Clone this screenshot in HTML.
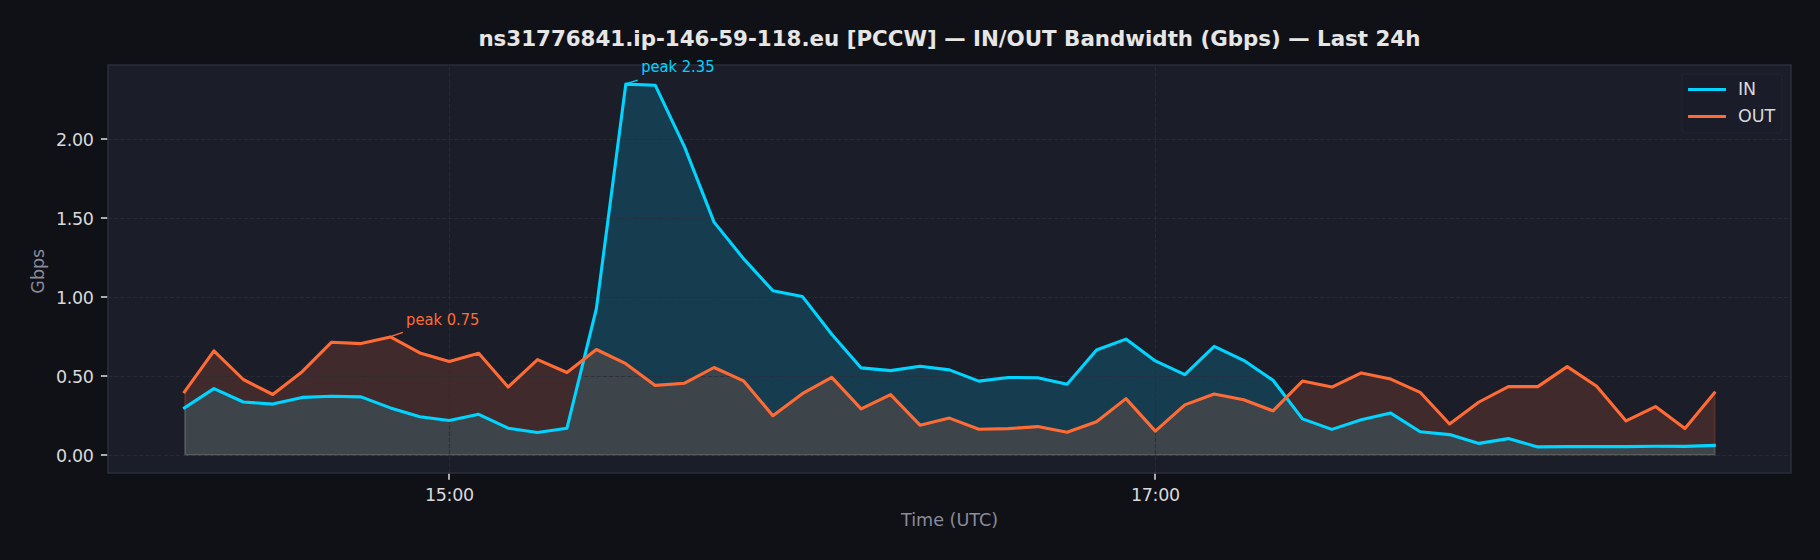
<!DOCTYPE html>
<html lang="en"><head><meta charset="utf-8"><title>IN/OUT Bandwidth</title>
<style>
html,body{margin:0;padding:0;background:#101116;}
body{width:1820px;height:560px;overflow:hidden;}
svg{display:block;font-family:"DejaVu Sans","Liberation Sans",sans-serif;}
text{white-space:pre;}
</style></head><body>
<svg width="1820" height="560" viewBox="0 0 1820 560">
<rect x="0" y="0" width="1820" height="560" fill="#101116"/>
<rect x="108.0" y="65.0" width="1683.00" height="408.00" fill="#1b1d29"/>

<polygon points="185.00,455.00 185.00,407.90 213.92,388.60 243.34,402.00 272.76,404.10 302.18,397.40 331.60,396.30 361.02,396.90 390.44,407.90 419.86,416.70 449.28,420.50 478.70,414.30 508.12,428.20 537.54,432.50 566.96,428.20 596.38,308.60 625.80,84.10 655.22,85.20 684.64,147.10 714.06,222.10 743.48,258.60 772.90,290.80 802.32,296.40 831.74,334.30 861.16,367.90 890.58,370.60 920.00,366.20 949.42,369.90 978.84,381.10 1008.26,377.50 1037.68,377.70 1067.10,384.30 1096.52,350.00 1125.94,339.10 1155.36,360.90 1184.78,374.60 1214.20,346.30 1243.62,360.30 1273.04,380.30 1302.46,418.90 1331.88,429.40 1361.30,419.70 1390.72,413.10 1420.14,431.70 1449.56,434.60 1478.98,443.40 1508.40,438.60 1537.82,446.90 1567.24,446.60 1596.66,446.60 1626.08,446.60 1655.50,446.30 1684.92,446.40 1714.70,445.40 1714.70,455.00" fill="#00d4ff" fill-opacity="0.18" stroke="#00d4ff" stroke-opacity="0.18" stroke-width="1.94" stroke-linejoin="miter"/>
<polygon points="185.00,455.00 185.00,391.80 213.92,350.80 243.34,379.50 272.76,394.50 302.18,371.70 331.60,342.20 361.02,343.60 390.44,336.90 419.86,352.90 449.28,361.40 478.70,353.20 508.12,387.00 537.54,359.60 566.96,372.50 596.38,349.50 625.80,363.70 655.22,385.40 684.64,383.20 714.06,367.50 743.48,380.80 772.90,415.70 802.32,393.70 831.74,377.40 861.16,408.90 890.58,394.70 920.00,425.20 949.42,418.10 978.84,429.30 1008.26,428.60 1037.68,426.60 1067.10,432.30 1096.52,421.70 1125.94,398.60 1155.36,431.10 1184.78,404.90 1214.20,394.00 1243.62,399.70 1273.04,410.90 1302.46,381.10 1331.88,387.10 1361.30,372.90 1390.72,379.10 1420.14,392.30 1449.56,424.00 1478.98,402.00 1508.40,386.60 1537.82,386.60 1567.24,366.60 1596.66,386.30 1626.08,420.90 1655.50,406.60 1684.92,428.60 1714.70,392.90 1714.70,455.00" fill="#ff6b35" fill-opacity="0.17" stroke="#ff6b35" stroke-opacity="0.17" stroke-width="1.94" stroke-linejoin="miter"/>
<g stroke="#2a2d3a" stroke-width="1.1667" stroke-dasharray="4.3167 1.8667" stroke-opacity="0.8" fill="none">
<line x1="108.0" y1="455.50" x2="1791.0" y2="455.50"/>
<line x1="108.0" y1="376.50" x2="1791.0" y2="376.50"/>
<line x1="108.0" y1="297.50" x2="1791.0" y2="297.50"/>
<line x1="108.0" y1="218.50" x2="1791.0" y2="218.50"/>
<line x1="108.0" y1="139.50" x2="1791.0" y2="139.50"/>
<line x1="449.5" y1="473.0" x2="449.5" y2="65.0"/>
<line x1="1155.5" y1="473.0" x2="1155.5" y2="65.0"/>
</g>
<polyline points="184.50,407.90 213.92,388.60 243.34,402.00 272.76,404.10 302.18,397.40 331.60,396.30 361.02,396.90 390.44,407.90 419.86,416.70 449.28,420.50 478.70,414.30 508.12,428.20 537.54,432.50 566.96,428.20 596.38,308.60 625.80,84.10 655.22,85.20 684.64,147.10 714.06,222.10 743.48,258.60 772.90,290.80 802.32,296.40 831.74,334.30 861.16,367.90 890.58,370.60 920.00,366.20 949.42,369.90 978.84,381.10 1008.26,377.50 1037.68,377.70 1067.10,384.30 1096.52,350.00 1125.94,339.10 1155.36,360.90 1184.78,374.60 1214.20,346.30 1243.62,360.30 1273.04,380.30 1302.46,418.90 1331.88,429.40 1361.30,419.70 1390.72,413.10 1420.14,431.70 1449.56,434.60 1478.98,443.40 1508.40,438.60 1537.82,446.90 1567.24,446.60 1596.66,446.60 1626.08,446.60 1655.50,446.30 1684.92,446.40 1714.34,445.40" fill="none" stroke="#00d4ff" stroke-width="3.1" stroke-linejoin="round" stroke-linecap="square"/>
<polyline points="184.50,391.80 213.92,350.80 243.34,379.50 272.76,394.50 302.18,371.70 331.60,342.20 361.02,343.60 390.44,336.90 419.86,352.90 449.28,361.40 478.70,353.20 508.12,387.00 537.54,359.60 566.96,372.50 596.38,349.50 625.80,363.70 655.22,385.40 684.64,383.20 714.06,367.50 743.48,380.80 772.90,415.70 802.32,393.70 831.74,377.40 861.16,408.90 890.58,394.70 920.00,425.20 949.42,418.10 978.84,429.30 1008.26,428.60 1037.68,426.60 1067.10,432.30 1096.52,421.70 1125.94,398.60 1155.36,431.10 1184.78,404.90 1214.20,394.00 1243.62,399.70 1273.04,410.90 1302.46,381.10 1331.88,387.10 1361.30,372.90 1390.72,379.10 1420.14,392.30 1449.56,424.00 1478.98,402.00 1508.40,386.60 1537.82,386.60 1567.24,366.60 1596.66,386.30 1626.08,420.90 1655.50,406.60 1684.92,428.60 1714.34,392.90" fill="none" stroke="#ff6b35" stroke-width="3.1" stroke-linejoin="round" stroke-linecap="square"/>
<g stroke="#d9d9d9" stroke-width="1.56">
<line x1="100.90" y1="455.00" x2="108.0" y2="455.00"/>
<line x1="100.90" y1="376.00" x2="108.0" y2="376.00"/>
<line x1="100.90" y1="297.00" x2="108.0" y2="297.00"/>
<line x1="100.90" y1="218.00" x2="108.0" y2="218.00"/>
<line x1="100.90" y1="139.00" x2="108.0" y2="139.00"/>
<line x1="449.0" y1="473.0" x2="449.0" y2="479.80"/>
<line x1="1155.0" y1="473.0" x2="1155.0" y2="479.80"/>
</g>
<rect x="108.0" y="65.0" width="1683.00" height="408.00" fill="none" stroke="#2a2d3a" stroke-width="1.56"/>
<line x1="637.7" y1="80.1" x2="627.2" y2="83.4" stroke="#00d4ff" stroke-width="1.36"/>
<text x="641.2" y="72.3" font-size="16.35" font-stretch="condensed" style="font-family:'DejaVu Sans Condensed','DejaVu Sans','Liberation Sans',sans-serif;font-stretch:condensed" fill="#00d4ff">peak 2.35</text>
<line x1="402.9" y1="332.3" x2="391.8" y2="336.2" stroke="#ff6b35" stroke-width="1.36"/>
<text x="406.1" y="325.1" font-size="16.35" font-stretch="condensed" style="font-family:'DejaVu Sans Condensed','DejaVu Sans','Liberation Sans',sans-serif;font-stretch:condensed" fill="#ff6b35">peak 0.75</text>
<g font-size="17.5" fill="#d9d9d9" letter-spacing="-0.3">
<text x="93.7" y="461.90" text-anchor="end">0.00</text>
<text x="93.7" y="382.85" text-anchor="end">0.50</text>
<text x="93.7" y="303.80" text-anchor="end">1.00</text>
<text x="93.7" y="224.75" text-anchor="end">1.50</text>
<text x="93.7" y="145.70" text-anchor="end">2.00</text>
<text x="424.90" y="501.1">15:00</text>
<text x="1130.90" y="501.1">17:00</text>
</g>
<text x="949.6" y="525.9" font-size="17.6" fill="#8b8b9b" text-anchor="middle">Time (UTC)</text>
<text transform="translate(43.9,271.2) rotate(-90)" font-size="17.5" fill="#8b8b9b" text-anchor="middle">Gbps</text>
<text x="949.4" y="46.1" font-size="21.37" font-weight="bold" fill="#e6e6e6" text-anchor="middle">ns31776841.ip-146-59-118.eu [PCCW] — IN/OUT Bandwidth (Gbps) — Last 24h</text>
<rect x="1681.9" y="73.9" width="99.8" height="59.0" rx="3.9" ry="3.9" fill="#1b1d29" fill-opacity="0.9" stroke="#2a2d3a" stroke-opacity="0.4" stroke-width="1.4"/>
<line x1="1689.6" y1="89.5" x2="1724.4" y2="89.5" stroke="#00d4ff" stroke-width="3.1" stroke-linecap="square"/>
<line x1="1689.6" y1="116.5" x2="1724.4" y2="116.5" stroke="#ff6b35" stroke-width="3.1" stroke-linecap="square"/>
<text x="1737.9" y="95.2" font-size="17.5" fill="#d9d9d9">IN</text>
<text x="1737.9" y="122.0" font-size="17.5" fill="#d9d9d9">OUT</text>
</svg>
</body></html>
